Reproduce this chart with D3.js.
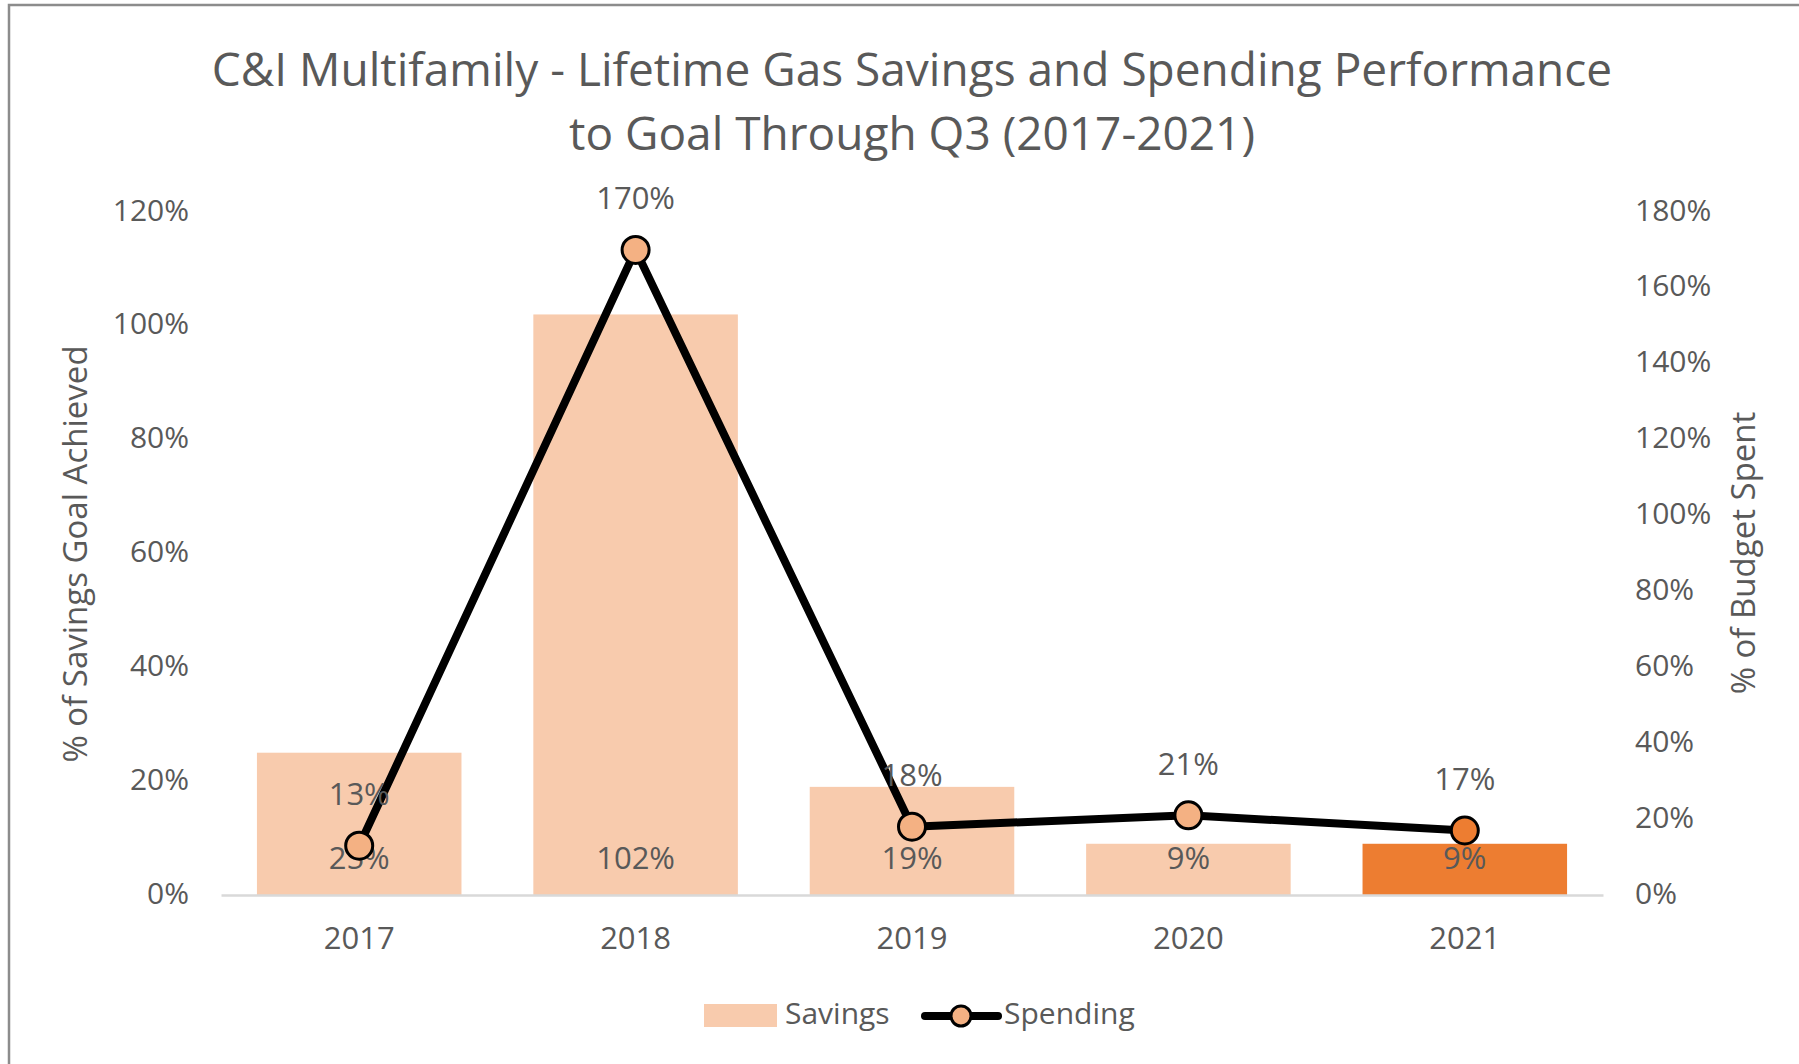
<!DOCTYPE html>
<html lang="en">
<head>
  <meta charset="UTF-8">
  <title>C&amp;I Multifamily - Lifetime Gas Savings and Spending</title>
  <style>
    body { margin: 0; background: #fff; }
    svg text { fill: #595959; font-family: "Open Sans", sans-serif; }
    .title { font-size: 46px; text-anchor: middle; }
    .tick-label { font-size: 30px; dominant-baseline: middle; }
    .cat-label { font-size: 31px; text-anchor: middle; dominant-baseline: middle; }
    .axis-title { font-size: 33px; text-anchor: middle; dominant-baseline: middle; }
    .data-label { font-size: 31px; text-anchor: middle; dominant-baseline: middle; }
    .legend-text { font-size: 30px; dominant-baseline: middle; }
  </style>
</head>
<body>
  <div id="chart"></div>
  <script src="https://d3js.org/d3.v7.min.js"></script>
  <script>
    // data
    var years = ['2017', '2018', '2019', '2020', '2021']
    var savings = [0.25, 1.02, 0.19, 0.09, 0.09]   // left axis
    var spending = [0.13, 1.70, 0.18, 0.21, 0.17]  // right axis
    var leftTicks = [0, 0.2, 0.4, 0.6, 0.8, 1.0, 1.2]
    var rightTicks = [0, 0.2, 0.4, 0.6, 0.8, 1.0, 1.2, 1.4, 1.6, 1.8]
    var highlightYear = '2021'

    var width = 1799
    var height = 1064
    var plot = {left: 221, right: 1603, top: 212, bottom: 895}

    var svg = d3.select('#chart')
      .append('svg')
      .attr('width', width)
      .attr('height', height)

    // chart area border (top and left only visible)
    svg.append('path')
      .attr('d', 'M9,1064 L9,5 L1799,5')
      .attr('fill', 'none')
      .attr('stroke', '#8c8c8c')
      .attr('stroke-width', 2.5)

    var pct = d3.format('.0%')

    var x = d3.scaleBand()
      .domain(years)
      .range([plot.left, plot.right])
      .paddingInner(0.26)
      .paddingOuter(0.13)

    var yLeft = d3.scaleLinear()
      .domain([0, 1.2])
      .range([plot.bottom, plot.top])

    var yRight = d3.scaleLinear()
      .domain([0, 1.8])
      .range([plot.bottom, plot.top])

    // title
    var title = svg.append('text').attr('class', 'title')
    title.append('tspan').attr('x', 912).attr('y', 86)
      .text('C&I Multifamily - Lifetime Gas Savings and Spending Performance')
    title.append('tspan').attr('x', 912).attr('y', 150)
      .text('to Goal Through Q3 (2017-2021)')

    // axes
    var leftAxis = d3.axisLeft(yLeft).tickValues(leftTicks).tickFormat(pct).tickSize(0).tickPadding(32)
    var rightAxis = d3.axisRight(yRight).tickValues(rightTicks).tickFormat(pct).tickSize(0).tickPadding(32)
    var bottomAxis = d3.axisBottom(x).tickSize(0).tickPadding(30)

    var gl = svg.append('g')
      .attr('transform', 'translate(' + plot.left + ',0)')
      .call(leftAxis)
    var gr = svg.append('g')
      .attr('transform', 'translate(' + plot.right + ',0)')
      .call(rightAxis)
    ;[gl, gr].forEach(function (g) {
      g.attr('font-family', null).attr('font-size', null)
      g.select('.domain').remove()
      g.selectAll('text')
        .attr('class', 'tick-label')
        .attr('dy', null)
        .attr('fill', null)
    })

    // bars
    svg.selectAll('.bar')
      .data(savings)
      .enter()
      .append('rect')
      .attr('class', 'bar')
      .attr('x', function (d, i) { return x(years[i]) })
      .attr('width', x.bandwidth())
      .attr('y', function (d) { return yLeft(d) })
      .attr('height', function (d) { return yLeft(0) - yLeft(d) })
      .attr('fill', function (d, i) { return years[i] === highlightYear ? '#ED7D31' : '#F8CBAD' })

    var gb = svg.append('g')
      .attr('transform', 'translate(0,' + plot.bottom + ')')
      .call(bottomAxis)
    gb.attr('font-family', null).attr('font-size', null)
    gb.select('.domain')
      .attr('stroke', '#D9D9D9')
      .attr('stroke-width', 2.5)
    gb.selectAll('text')
      .attr('class', 'cat-label')
      .attr('dy', null)
      .attr('fill', null)
      .attr('y', 46)

    // bar labels (inside base)
    svg.selectAll('.bar-label')
      .data(savings)
      .enter()
      .append('text')
      .attr('class', 'data-label')
      .attr('x', function (d, i) { return x(years[i]) + x.bandwidth() / 2 })
      .attr('y', plot.bottom - 34)
      .text(function (d) { return pct(d) })

    // spending line
    var line = d3.line()
      .x(function (d, i) { return x(years[i]) + x.bandwidth() / 2 })
      .y(function (d) { return yRight(d) })

    svg.append('path')
      .datum(spending)
      .attr('d', line)
      .attr('fill', 'none')
      .attr('stroke', '#000')
      .attr('stroke-width', 8)
      .attr('stroke-linejoin', 'round')

    svg.selectAll('.marker')
      .data(spending)
      .enter()
      .append('circle')
      .attr('class', 'marker')
      .attr('cx', function (d, i) { return x(years[i]) + x.bandwidth() / 2 })
      .attr('cy', function (d) { return yRight(d) })
      .attr('r', 13.5)
      .attr('fill', function (d, i) { return years[i] === highlightYear ? '#ED7D31' : '#F4B183' })
      .attr('stroke', '#000')
      .attr('stroke-width', 3)

    svg.selectAll('.line-label')
      .data(spending)
      .enter()
      .append('text')
      .attr('class', 'data-label')
      .attr('x', function (d, i) { return x(years[i]) + x.bandwidth() / 2 })
      .attr('y', function (d) { return yRight(d) - 49 })
      .text(function (d) { return pct(d) })

    // axis titles
    svg.append('text')
      .attr('class', 'axis-title')
      .attr('transform', 'translate(78,554) rotate(-90)')
      .text('% of Savings Goal Achieved')
    svg.append('text')
      .attr('class', 'axis-title')
      .attr('transform', 'translate(1746,553) rotate(-90)')
      .text('% of Budget Spent')

    // legend
    var legend = svg.append('g')
    legend.append('rect')
      .attr('x', 704).attr('y', 1004)
      .attr('width', 73).attr('height', 23)
      .attr('fill', '#F8CBAD')
    legend.append('text')
      .attr('class', 'legend-text')
      .attr('x', 785).attr('y', 1016)
      .text('Savings')
    legend.append('line')
      .attr('x1', 925).attr('x2', 998)
      .attr('y1', 1016).attr('y2', 1016)
      .attr('stroke', '#000')
      .attr('stroke-width', 8)
      .attr('stroke-linecap', 'round')
    legend.append('circle')
      .attr('cx', 961).attr('cy', 1016)
      .attr('r', 10)
      .attr('fill', '#F4B183')
      .attr('stroke', '#000')
      .attr('stroke-width', 3)
    legend.append('text')
      .attr('class', 'legend-text')
      .attr('x', 1004).attr('y', 1016)
      .text('Spending')
  </script>
</body>
</html>
